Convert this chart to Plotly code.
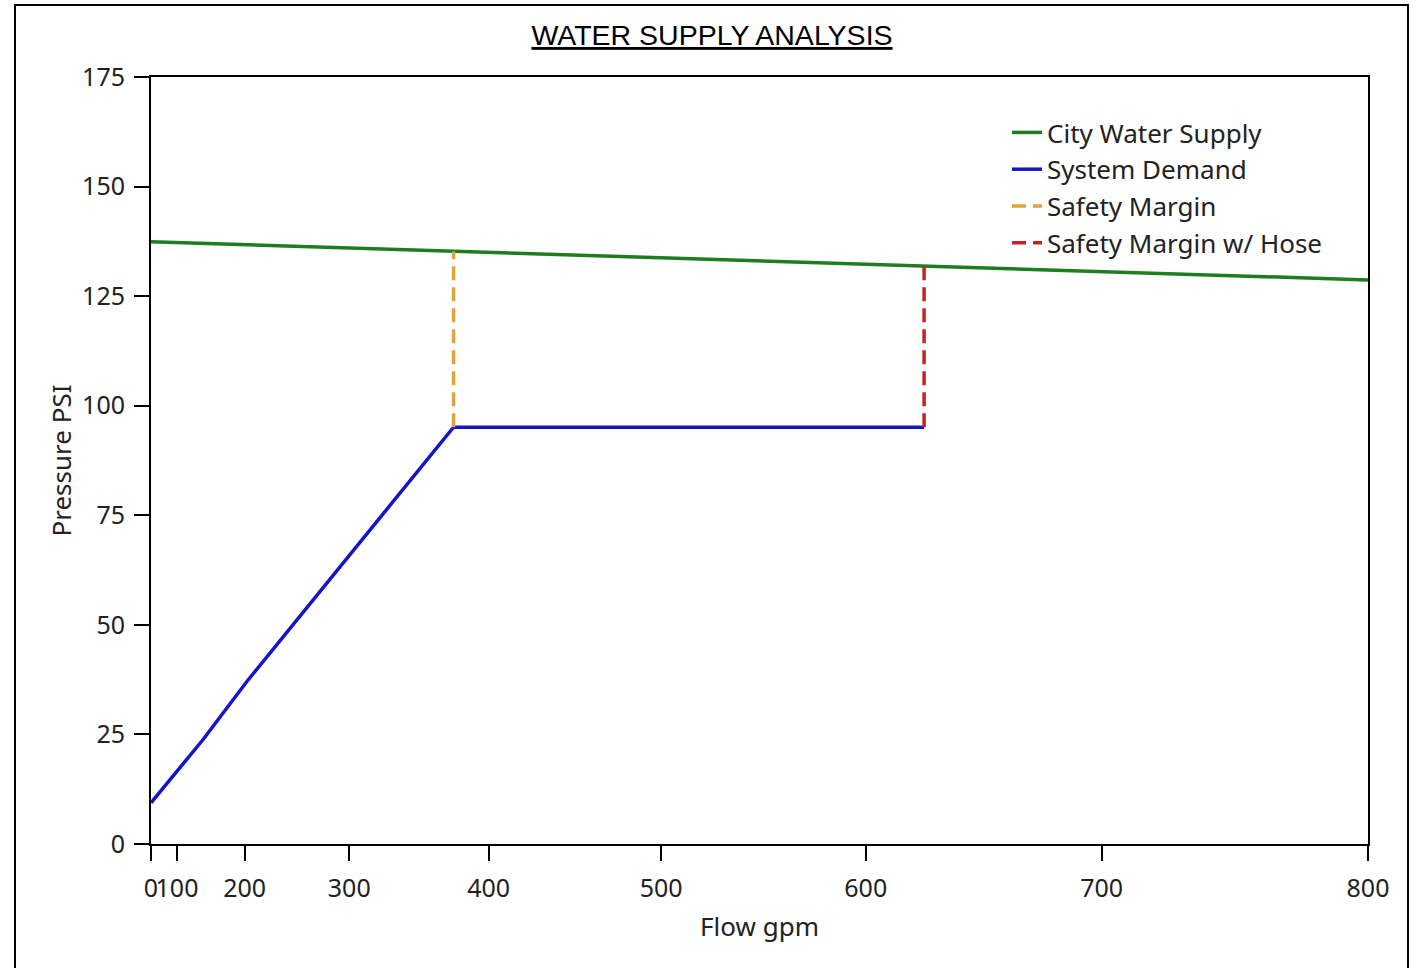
import plotly.graph_objects as go

# ---- data (flow in gpm, pressure in psi) ----
supply_flow = [0, 800]
supply_psi = [137.4, 128.7]

demand_flow = [0, 146, 203, 377, 626]
demand_psi = [9.4, 23.9, 37.2, 95.1, 95.1]

margin_flow = [377, 377]
margin_psi = [95.1, 135.2]

hose_flow = [626, 626]
hose_psi = [95.1, 132.0]

x_ticks = [0, 100, 200, 300, 400, 500, 600, 700, 800]
y_ticks = [0, 25, 50, 75, 100, 125, 150, 175]

EXP = 1.85
XMAX = 800.0


def tx(q):
    """N^1.85 hydraulic scale."""
    return [XMAX * (v / XMAX) ** EXP for v in q]


FONT = "Noto Sans"
TXT = "#222222"

fig = go.Figure()
fig.add_trace(go.Scatter(x=tx(supply_flow), y=supply_psi, mode="lines",
                         name="City Water Supply",
                         line=dict(color="#1e7d1e", width=3.5)))
fig.add_trace(go.Scatter(x=tx(demand_flow), y=demand_psi, mode="lines",
                         name="System Demand",
                         line=dict(color="#1414c8", width=3.5)))
fig.add_trace(go.Scatter(x=tx(margin_flow), y=margin_psi, mode="lines",
                         name="Safety Margin",
                         line=dict(color="#e0a43c", width=3.5, dash="14px,7px")))
fig.add_trace(go.Scatter(x=tx(hose_flow), y=hose_psi, mode="lines",
                         name="Safety Margin w/ Hose",
                         line=dict(color="#c42424", width=3.5, dash="14px,7px")))

W, H = 1419, 968
L, R, T, B = 151, 1368, 77, 844
pw, ph = R - L, B - T

fig.update_layout(
    width=W, height=H,
    margin=dict(l=L, r=W - R, t=T, b=H - B, pad=0),
    paper_bgcolor="white", plot_bgcolor="white",
    font=dict(family=FONT, size=26, color=TXT),
    title=dict(text="<u>WATER SUPPLY ANALYSIS</u>",
               font=dict(family="Liberation Sans", size=28.5, color="black"),
               x=712 / W, xanchor="center",
               y=1 - 35 / H, yanchor="middle"),
    showlegend=True,
    legend=dict(x=(1007 - L) / pw, y=(844 - 109) / ph,
                xanchor="left", yanchor="top",
                bgcolor="rgba(0,0,0,0)",
                font=dict(family=FONT, size=26, color=TXT),
                tracegroupgap=0),
    xaxis=dict(range=[0, XMAX], tickmode="array",
               tickvals=tx(x_ticks), ticktext=[str(v) for v in x_ticks],
               tickangle=0, ticklabelstandoff=6,
               showgrid=False, zeroline=False,
               showline=True, linecolor="black", linewidth=2, mirror=True,
               ticks="outside", ticklen=15, tickwidth=2, tickcolor="black",
               tickfont=dict(family=FONT, size=25, color=TXT),
               title=dict(text="Flow gpm", standoff=15,
                          font=dict(family=FONT, size=26, color=TXT))),
    yaxis=dict(range=[0, 175], tickmode="array", tickvals=y_ticks,
               showgrid=False, zeroline=False,
               showline=True, linecolor="black", linewidth=2, mirror=True,
               ticks="outside", ticklen=15, tickwidth=2, tickcolor="black",
               ticklabelstandoff=4,
               tickfont=dict(family=FONT, size=25, color=TXT),
               title=dict(text="Pressure PSI", standoff=3,
                          font=dict(family=FONT, size=26, color=TXT))),
)

# outer frame around the whole graphic
fig.add_shape(type="rect", xref="paper", yref="paper",
              x0=(15 - L) / pw, x1=(1408 - L) / pw,
              y0=(B - 1000) / ph, y1=(B - 5) / ph,
              line=dict(color="black", width=2), fillcolor="rgba(0,0,0,0)",
              layer="below")

fig.write_html("out.html", config={"displayModeBar": False},
               post_script="document.body.style.margin='0';")
